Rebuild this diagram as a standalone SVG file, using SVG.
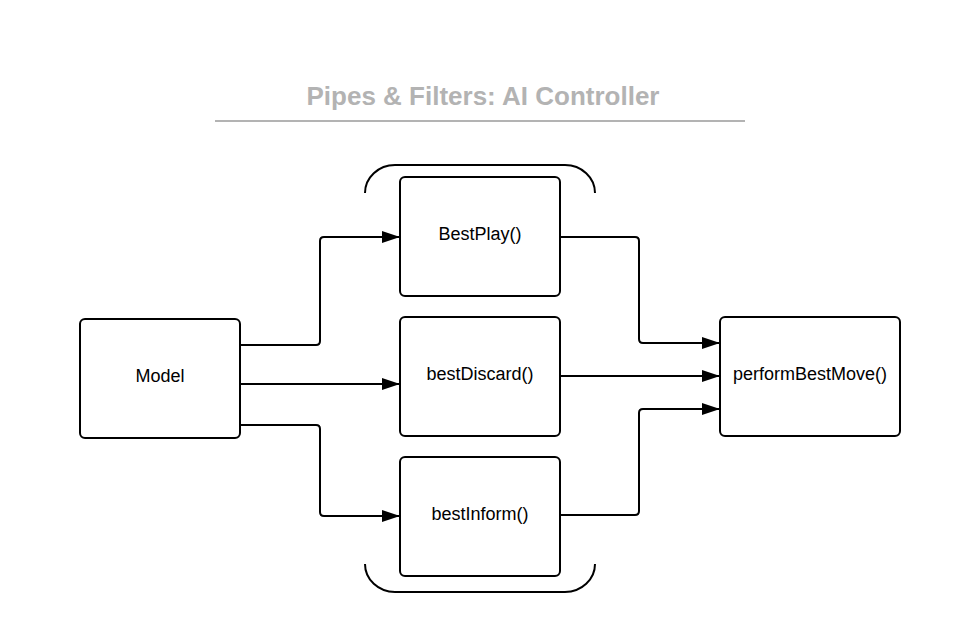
<svg xmlns="http://www.w3.org/2000/svg" width="960" height="634" viewBox="0 0 960 634">
<defs>
<style>
.box{fill:#fff;stroke:#000;stroke-width:2}
.lbl{font-family:"Liberation Sans",Arial,sans-serif;font-size:18px;fill:#000;text-anchor:middle;dominant-baseline:central}
.con{fill:none;stroke:#000;stroke-width:2;stroke-linejoin:round}
.br{fill:none;stroke:#000;stroke-width:2}
</style>
<marker id="arr" viewBox="0 0 18 12" refX="18" refY="6" markerWidth="18" markerHeight="12" markerUnits="userSpaceOnUse" orient="auto">
<path d="M0,0 L18,6 L0,12 Z" fill="#000"/>
</marker>
</defs>
<rect width="960" height="634" fill="#fff"/>
<g id="title">
<text x="483" y="96" style="font-family:'Liberation Sans',Arial,sans-serif;font-size:26px;font-weight:bold;fill:#b3b3b3;text-anchor:middle;dominant-baseline:central">Pipes &amp; Filters: AI Controller</text>
<line x1="215" y1="121" x2="745" y2="121" stroke="#b3b3b3" stroke-width="2"/>
</g>
<g id="brackets">
<path class="br" d="M365,193 A30,28 0 0 1 395,165 L565,165 A30,28 0 0 1 595,193"/>
<path class="br" d="M365,564 A30,28 0 0 0 395,592 L565,592 A30,28 0 0 0 595,564"/>
</g>
<g id="connectors">
<path class="con" marker-end="url(#arr)" d="M240,345 L316,345 Q320,345 320,341 L320,241 Q320,237 324,237 L400,237"/>
<path class="con" marker-end="url(#arr)" d="M240,384 L400,384"/>
<path class="con" marker-end="url(#arr)" d="M240,425 L316,425 Q320,425 320,429 L320,512 Q320,516 324,516 L400,516"/>
<path class="con" marker-end="url(#arr)" d="M560,237 L635,237 Q639,237 639,241 L639,339 Q639,343 643,343 L720,343"/>
<path class="con" marker-end="url(#arr)" d="M560,376 L720,376"/>
<path class="con" marker-end="url(#arr)" d="M560,515 L635,515 Q639,515 639,511 L639,413 Q639,409 643,409 L720,409"/>
</g>
<g id="model">
<rect class="box" x="80" y="319" width="160" height="119" rx="5"/>
<text class="lbl" x="160" y="376">Model</text>
</g>
<g id="bestplay">
<rect class="box" x="400" y="177" width="160" height="119" rx="5"/>
<text class="lbl" x="480" y="234">BestPlay()</text>
</g>
<g id="bestdiscard">
<rect class="box" x="400" y="317" width="160" height="119" rx="5"/>
<text class="lbl" x="480" y="374">bestDiscard()</text>
</g>
<g id="bestinform">
<rect class="box" x="400" y="457" width="160" height="119" rx="5"/>
<text class="lbl" x="480" y="514">bestInform()</text>
</g>
<g id="performbestmove">
<rect class="box" x="720" y="317" width="180" height="119" rx="5"/>
<text class="lbl" x="810" y="374">performBestMove()</text>
</g>
</svg>
